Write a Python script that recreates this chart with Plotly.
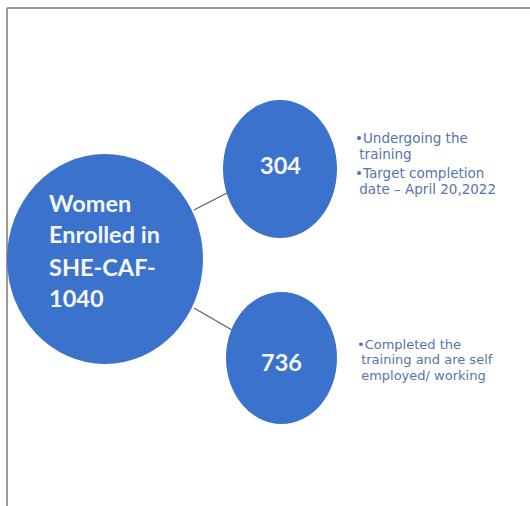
import plotly.graph_objects as go

# ---- data ----
total_label = ["Women", "Enrolled in", "SHE-CAF-", "1040"]
total = 1040
undergoing = 304
completed = 736
undergoing_notes = ["•Undergoing the", " training", "•Target completion", " date – April 20,2022"]
completed_notes = ["•Completed the", " training and are self", " employed/ working"]

# ---- styles / layout constants ----
W, H = 530, 506
BLUE = "#3b72cc"
NOTE_COLOR = "#5575ad"
LINE_COLOR = "#5a6270"

fig = go.Figure()
fig.add_trace(go.Scatter(x=[0], y=[0], mode="markers", marker=dict(opacity=0), hoverinfo="skip", showlegend=False))

shapes = []
# frame
shapes.append(dict(type="line", x0=7, x1=530, y0=8, y1=8, line=dict(color="#9a9a9a", width=2)))
shapes.append(dict(type="line", x0=7, x1=7, y0=8, y1=506, line=dict(color="#9a9a9a", width=2)))
# connectors
shapes.append(dict(type="line", x0=194, y0=210, x1=227, y1=193, line=dict(color=LINE_COLOR, width=1.3)))
shapes.append(dict(type="line", x0=194, y0=308, x1=232, y1=330, line=dict(color=LINE_COLOR, width=1.3)))
# circles
shapes.append(dict(type="circle", x0=7, x1=203, y0=154, y1=364, fillcolor=BLUE, line=dict(width=0)))
shapes.append(dict(type="circle", x0=223, x1=337, y0=100, y1=238, fillcolor=BLUE, line=dict(width=0)))
shapes.append(dict(type="circle", x0=226, x1=337, y0=292, y1=424, fillcolor=BLUE, line=dict(width=0)))

ann = []
big_y = [203, 234, 267, 298]
for t, y in zip(total_label, big_y):
    ann.append(dict(x=47, y=y, text="<b>%s</b>" % t, showarrow=False, xanchor="left", yanchor="middle",
                    font=dict(family="Lato", size=23.5, color="#f4f7fc")))
ann.append(dict(x=280, y=165, text="<b>%d</b>" % undergoing, showarrow=False, xanchor="center", yanchor="middle",
                font=dict(family="Lato", size=23.5, color="#f4f7fc")))
ann.append(dict(x=281, y=362, text="<b>%d</b>" % completed, showarrow=False, xanchor="center", yanchor="middle",
                font=dict(family="Lato", size=23.5, color="#f4f7fc")))

for t, y in zip(undergoing_notes, [138, 154, 173, 189]):
    ann.append(dict(x=353, y=y, text=t, showarrow=False, xanchor="left", yanchor="middle",
                    font=dict(family="DejaVu Sans", size=13.5, color=NOTE_COLOR)))
for t, y in zip(completed_notes, [344, 359.5, 375]):
    ann.append(dict(x=355, y=y, text=t, showarrow=False, xanchor="left", yanchor="middle",
                    font=dict(family="DejaVu Sans", size=13, color=NOTE_COLOR)))

fig.update_layout(
    width=W, height=H, margin=dict(l=0, r=0, t=0, b=0),
    paper_bgcolor="white", plot_bgcolor="white",
    xaxis=dict(range=[0, W], visible=False, fixedrange=True),
    yaxis=dict(range=[H, 0], visible=False, fixedrange=True),
    shapes=shapes, annotations=ann, showlegend=False,
)
fig.write_html("out.html", post_script="document.body.style.margin='0';",
               config={"displayModeBar": False})
